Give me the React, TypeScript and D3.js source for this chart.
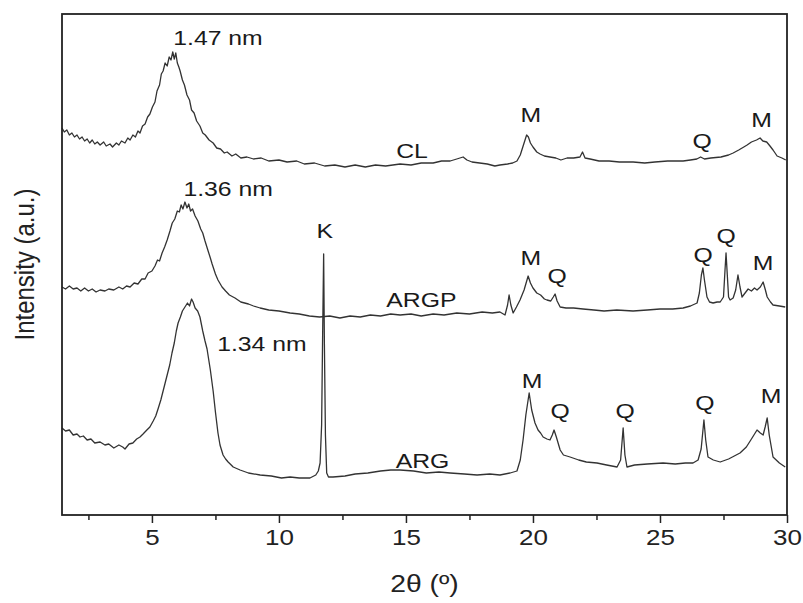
import React, { useRef, useEffect } from 'react';
import * as d3 from 'd3';

// 2θ (degrees) vs intensity (a.u., offset traces)
const clPattern: [number, number][] = [
  [1.46, 387], [1.55, 383], [1.65, 385], [1.75, 380], [1.85, 382], [1.95, 378], [2.05, 380], [2.15, 376],
  [2.25, 378], [2.35, 374], [2.45, 376], [2.55, 372], [2.65, 375], [2.75, 371], [2.85, 373], [2.96, 370],
  [3.1, 373], [3.2, 369], [3.35, 371], [3.45, 368], [3.6, 372], [3.7, 370], [3.8, 374], [3.94, 372],
  [4.05, 377], [4.14, 375], [4.25, 380], [4.35, 378], [4.45, 384], [4.53, 382], [4.63, 389], [4.73, 391],
  [4.83, 398], [4.92, 401], [5.02, 408], [5.12, 413], [5.2, 424], [5.3, 430], [5.37, 441], [5.44, 444],
  [5.52, 452], [5.6, 449], [5.68, 458], [5.75, 455], [5.82, 463], [5.88, 456], [5.94, 462], [6.0, 452],
  [6.06, 448], [6.11, 444], [6.2, 435], [6.28, 430], [6.38, 420], [6.48, 415], [6.56, 405], [6.66, 402],
  [6.76, 394], [6.89, 389], [7.0, 382], [7.1, 380], [7.25, 375], [7.41, 372], [7.55, 367], [7.7, 366],
  [7.85, 362], [7.96, 363], [8.15, 359], [8.3, 361], [8.5, 357], [8.74, 358], [9.0, 356], [9.3, 357],
  [9.6, 354], [10.0, 355], [10.32, 353], [10.7, 354], [11.0, 351], [11.4, 352], [11.8, 349], [12.2, 350],
  [12.6, 348], [13.0, 350], [13.4, 348], [13.8, 350], [14.2, 349], [14.77, 351], [15.2, 350], [15.6, 352],
  [16.07, 352], [16.4, 354], [16.74, 354], [17.0, 356], [17.25, 358], [17.4, 355], [17.6, 353], [17.9, 352],
  [18.2, 351], [18.5, 349], [18.7, 350], [19.0, 351], [19.2, 352], [19.37, 354], [19.5, 360], [19.65, 372],
  [19.75, 380], [19.82, 378], [19.9, 372], [20.0, 368], [20.15, 363], [20.28, 361], [20.45, 359], [20.67, 358],
  [20.9, 357], [21.1, 355], [21.34, 357], [21.6, 357], [21.85, 358], [21.95, 363], [22.05, 357], [22.25, 356],
  [22.6, 354], [23.0, 354], [23.4, 353], [23.94, 353], [24.4, 352], [24.8, 353], [25.3, 354], [25.91, 354],
  [26.2, 355], [26.45, 356], [26.6, 358], [26.75, 356], [27.0, 357], [27.4, 358], [27.7, 360], [27.88, 362],
  [28.1, 365], [28.3, 368], [28.43, 370], [28.6, 373], [28.8, 375], [28.94, 377], [29.05, 374], [29.2, 373],
  [29.33, 369], [29.45, 365], [29.61, 359], [29.8, 357], [29.95, 355],
];

const argpPattern: [number, number][] = [
  [1.46, 228], [1.6, 226], [1.75, 229], [1.9, 226], [2.05, 227], [2.2, 224], [2.35, 227], [2.5, 224],
  [2.65, 226], [2.8, 223], [2.96, 225], [3.15, 224], [3.3, 226], [3.5, 225], [3.7, 228], [3.85, 226],
  [4.0, 229], [4.14, 228], [4.3, 232], [4.45, 231], [4.6, 236], [4.73, 236], [4.85, 242], [5.0, 244],
  [5.12, 249], [5.22, 255], [5.3, 254], [5.4, 262], [5.5, 268], [5.6, 275], [5.71, 284], [5.8, 292],
  [5.9, 296], [6.0, 304], [6.08, 303], [6.15, 310], [6.22, 306], [6.3, 313], [6.38, 307], [6.45, 311],
  [6.52, 304], [6.6, 306], [6.7, 299], [6.81, 294], [6.92, 286], [7.0, 282], [7.09, 274], [7.2, 265],
  [7.3, 257], [7.37, 251], [7.5, 241], [7.6, 235], [7.76, 228], [7.9, 224], [8.05, 220], [8.27, 217],
  [8.5, 213], [8.8, 211], [9.0, 209], [9.26, 207], [9.6, 205], [10.0, 204], [10.44, 202], [10.8, 201],
  [11.2, 199], [11.6, 198], [12.0, 199], [12.4, 197], [12.8, 199], [13.2, 198], [13.6, 200], [14.0, 199],
  [14.4, 201], [14.77, 200], [15.2, 201], [15.6, 199], [16.07, 201], [16.5, 200], [17.0, 202], [17.5, 201],
  [18.0, 203], [18.4, 202], [18.7, 203], [18.9, 200], [19.0, 210], [19.06, 220], [19.13, 210], [19.22, 202],
  [19.35, 208], [19.49, 215], [19.65, 225], [19.81, 239], [19.9, 232], [20.0, 227], [20.15, 222], [20.3, 220],
  [20.45, 216], [20.55, 215], [20.7, 214], [20.8, 218], [20.87, 221], [20.95, 214], [21.07, 208], [21.3, 207],
  [21.6, 207], [21.97, 206], [22.4, 205], [22.8, 204], [23.3, 205], [23.94, 204], [24.5, 205], [25.0, 206],
  [25.5, 206], [25.91, 207], [26.2, 209], [26.46, 212], [26.55, 222], [26.63, 240], [26.69, 247], [26.75, 235],
  [26.85, 218], [26.95, 213], [27.09, 212], [27.25, 213], [27.37, 213], [27.5, 218], [27.56, 245], [27.6, 262],
  [27.65, 240], [27.7, 218], [27.76, 215], [27.88, 217], [27.98, 225], [28.07, 240], [28.15, 228], [28.23, 218],
  [28.35, 222], [28.47, 226], [28.6, 224], [28.72, 227], [28.82, 225], [28.95, 228], [29.06, 233], [29.15, 225],
  [29.22, 218], [29.35, 213], [29.45, 210], [29.7, 209], [29.93, 208],
];

const argPattern: [number, number][] = [
  [1.46, 87], [1.6, 84], [1.75, 85], [1.9, 80], [2.05, 81], [2.17, 78], [2.3, 79], [2.45, 75],
  [2.6, 76], [2.75, 72], [2.96, 73], [3.15, 70], [3.3, 71], [3.5, 67], [3.7, 70], [3.85, 68],
  [3.94, 66], [4.1, 71], [4.25, 72], [4.4, 76], [4.53, 78], [4.65, 81], [4.8, 85], [4.92, 88],
  [5.05, 94], [5.15, 99], [5.24, 106], [5.35, 115], [5.45, 125], [5.52, 132], [5.62, 142], [5.7, 150],
  [5.79, 162], [5.88, 172], [5.96, 184], [6.03, 192], [6.12, 198], [6.2, 204], [6.3, 208], [6.4, 212],
  [6.48, 209], [6.56, 216], [6.62, 213], [6.7, 207], [6.8, 204], [6.89, 198], [7.0, 184], [7.09, 174],
  [7.17, 166], [7.3, 145], [7.41, 124], [7.5, 103], [7.6, 82], [7.68, 70], [7.8, 60], [7.9, 56],
  [8.0, 53], [8.2, 48], [8.47, 45], [8.8, 42], [9.26, 40], [9.7, 39], [10.1, 37], [10.44, 38],
  [10.8, 37], [11.22, 37], [11.45, 40], [11.55, 44], [11.62, 52], [11.68, 90], [11.72, 180], [11.76, 261],
  [11.79, 170], [11.83, 80], [11.88, 42], [11.95, 38], [12.13, 38], [12.6, 39], [13.0, 41], [13.5, 42],
  [14.0, 44], [14.4, 45], [14.77, 45], [15.3, 44], [15.8, 42], [16.3, 43], [16.74, 42], [17.3, 41],
  [17.8, 40], [18.3, 41], [18.7, 40], [19.1, 42], [19.37, 44], [19.5, 55], [19.61, 75], [19.72, 100],
  [19.85, 122], [19.95, 105], [20.08, 92], [20.2, 85], [20.3, 82], [20.4, 78], [20.55, 76], [20.67, 75],
  [20.76, 80], [20.83, 85], [20.92, 78], [21.07, 65], [21.2, 60], [21.46, 58], [21.8, 55], [22.1, 53],
  [22.52, 52], [22.9, 50], [23.31, 48], [23.45, 55], [23.55, 87], [23.62, 60], [23.7, 48], [24.0, 50],
  [24.5, 51], [25.12, 52], [25.6, 51], [26.0, 52], [26.3, 52], [26.5, 55], [26.62, 66], [26.73, 95],
  [26.8, 75], [26.89, 58], [27.1, 55], [27.37, 53], [27.7, 56], [28.0, 60], [28.15, 62], [28.4, 68],
  [28.6, 76], [28.82, 85], [28.95, 82], [29.06, 80], [29.14, 88], [29.22, 97], [29.3, 80], [29.45, 58],
  [29.7, 52], [29.93, 48],
];

const xTicks = [5, 10, 15, 20, 25, 30];
const xMinorTicks = [2.5, 7.5, 12.5, 17.5, 22.5, 27.5];

// peak / sample labels: [text, 2θ, intensity at text baseline]
const labels: [string, number, number][] = [
  ['1.47 nm', 7.6, 470], ['1.36 nm', 8.0, 319], ['1.34 nm', 9.33, 164], ['K', 11.8, 277],
  ['CL', 15.24, 357], ['ARGP', 15.61, 208], ['ARG', 15.65, 47],
  ['M', 19.92, 393], ['Q', 26.66, 367], ['M', 29.0, 388],
  ['M', 19.92, 250], ['Q', 20.95, 232], ['Q', 26.7, 253], ['Q', 27.6, 272], ['M', 29.06, 245],
  ['M', 19.96, 127], ['Q', 21.07, 97], ['Q', 23.63, 97], ['Q', 26.77, 105], ['M', 29.37, 112],
];

const W = 803;
const H = 603;
const margin = { top: 14, right: 16, bottom: 88, left: 62 };
const font = 'Liberation Sans, Arial, sans-serif';
const stretch = 1.18;

const XrdChart = () => {
  const svgRef = useRef<SVGSVGElement>(null);

  useEffect(() => {
    const svg = d3.select(svgRef.current);
    svg.selectAll('*').remove();

    const iw = W - margin.left - margin.right;
    const ih = H - margin.top - margin.bottom;

    const x = d3.scaleLinear().domain([1.46, 30]).range([0, iw]);
    const y = d3.scaleLinear().domain([0, ih]).range([ih, 0]);

    const g = svg.append('g').attr('transform', `translate(${margin.left},${margin.top})`);

    // traces
    const line = d3.line<[number, number]>()
      .x(d => x(d[0]))
      .y(d => y(d[1]));

    [clPattern, argpPattern, argPattern].forEach(series => {
      g.append('path')
        .datum(series)
        .attr('d', line)
        .attr('fill', 'none')
        .attr('stroke', '#333')
        .attr('stroke-width', 1.3)
        .attr('stroke-linejoin', 'round');
    });

    // minor ticks
    const minorAxis = d3.axisBottom(x).tickValues(xMinorTicks).tickSize(5).tickFormat(() => '');
    g.append('g')
      .attr('transform', `translate(0,${ih})`)
      .call(minorAxis)
      .call(s => s.select('.domain').remove())
      .selectAll('line')
      .attr('stroke', '#222')
      .attr('stroke-width', 1.5);

    // major ticks
    const xAxis = d3.axisBottom(x).tickValues(xTicks).tickSize(8).tickPadding(6).tickFormat(d3.format('d'));
    const ax = g.append('g')
      .attr('transform', `translate(0,${ih})`)
      .call(xAxis);
    ax.select('.domain').remove();
    ax.selectAll('line').attr('stroke', '#222').attr('stroke-width', 1.5);
    ax.selectAll('text')
      .attr('font-family', font)
      .attr('font-size', 22)
      .attr('fill', '#222')
      .attr('transform', `scale(${stretch},1)`);

    // frame
    g.append('rect')
      .attr('x', 0)
      .attr('y', 0)
      .attr('width', iw)
      .attr('height', ih)
      .attr('fill', 'none')
      .attr('stroke', '#222')
      .attr('stroke-width', 1.8);

    // annotations
    g.selectAll('.lbl')
      .data(labels)
      .join('text')
      .attr('class', 'lbl')
      .attr('transform', d => `translate(${x(d[1])},${y(d[2])}) scale(${stretch},1)`)
      .attr('text-anchor', 'middle')
      .attr('font-family', font)
      .attr('font-size', 21)
      .attr('fill', '#1a1a1a')
      .text(d => d[0]);

    // axis titles
    svg.append('text')
      .attr('transform', `translate(${margin.left + iw / 2},${H - 11}) scale(${stretch},1)`)
      .attr('text-anchor', 'middle')
      .attr('font-family', font)
      .attr('font-size', 24)
      .attr('fill', '#222')
      .text('2θ (º)');

    svg.append('text')
      .attr('transform', `translate(34,${margin.top + ih / 2}) rotate(-90) scale(1,${stretch})`)
      .attr('text-anchor', 'middle')
      .attr('font-family', font)
      .attr('font-size', 24)
      .attr('fill', '#222')
      .text('Intensity (a.u.)');
  }, []);

  return (
    <svg
      ref={svgRef}
      width={W}
      height={H}
      style={{ position: 'absolute', left: 0, top: 0, background: '#fff' }}
    />
  );
};

export default function App() {
  return <XrdChart />;
}
